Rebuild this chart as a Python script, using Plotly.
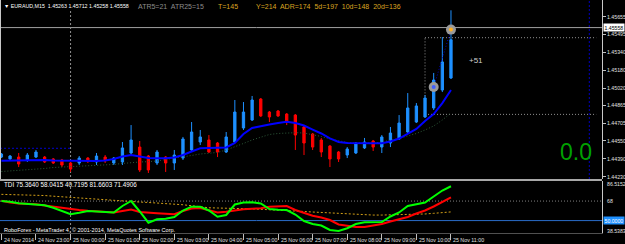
import plotly.graph_objects as go
import pandas as pd

# ---------------- data ----------------
bar_times = pd.date_range("2014-11-24 22:00", periods=53, freq="15min")

ha_open = [1.44405,1.44388,1.44405,1.44379,1.44405,1.44405,1.44388,1.44379,1.44352,1.44352,
           1.44396,1.44361,1.44405,1.44352,1.44361,1.44441,1.44494,1.44414,1.44352,1.44405,
           1.44352,1.44396,1.44468,1.44539,1.44557,1.44530,1.44450,1.44539,1.44664,1.44735,
           1.44922,1.44806,1.44815,1.44788,1.44779,1.44673,1.44610,1.44557,1.44503,1.44450,
           1.44423,1.44441,1.44486,1.44548,1.44494,1.44530,1.44566,1.44628,1.44717,1.44762,
           1.44842,1.45002,1.45109]
ha_high = [1.44441,1.44423,1.44441,1.44441,1.44468,1.44414,1.44396,1.44388,1.44361,1.44414,
           1.44405,1.44441,1.44423,1.44405,1.44539,1.44690,1.44548,1.44423,1.44468,1.44414,
           1.44468,1.44584,1.44717,1.44646,1.44601,1.44539,1.44628,1.44913,1.44895,1.44949,
           1.44931,1.44815,1.44824,1.44797,1.44788,1.44690,1.44619,1.44575,1.44512,1.44459,
           1.44494,1.44539,1.44575,1.44557,1.44601,1.44673,1.44779,1.44975,1.44886,1.44958,
           1.45154,1.45474,1.45712]
ha_low = [1.44396,1.44379,1.44316,1.44361,1.44396,1.44352,1.44343,1.44316,1.44272,1.44334,
          1.44352,1.44334,1.44352,1.44334,1.44334,1.44423,1.44272,1.44263,1.44334,1.44272,
          1.44290,1.44379,1.44450,1.44512,1.44441,1.44405,1.44441,1.44530,1.44646,1.44726,
          1.44762,1.44717,1.44762,1.44690,1.44468,1.44423,1.44468,1.44405,1.44316,1.44361,
          1.44396,1.44432,1.44477,1.44459,1.44441,1.44494,1.44557,1.44619,1.44708,1.44753,
          1.44824,1.44984,1.45100]
ha_close = [1.44432,1.44414,1.44343,1.44423,1.44450,1.44361,1.44352,1.44334,1.44298,1.44396,
            1.44370,1.44414,1.44370,1.44396,1.44486,1.44557,1.44290,1.44290,1.44450,1.44352,
            1.44423,1.44566,1.44628,1.44584,1.44450,1.44450,1.44584,1.44806,1.44806,1.44913,
            1.44771,1.44762,1.44771,1.44726,1.44601,1.44530,1.44494,1.44450,1.44388,1.44388,
            1.44477,1.44530,1.44539,1.44494,1.44584,1.44619,1.44708,1.44842,1.44860,1.44931,
            1.45091,1.45252,1.45450]

ma_fast = [1.44372,1.44374,1.44374,1.44376,1.44379,1.44379,1.44374,1.44372,1.44370,1.44370,
           1.44370,1.44370,1.44374,1.44388,1.44410,1.44423,1.44410,1.44396,1.44394,1.44394,
           1.44401,1.44423,1.44454,1.44483,1.44486,1.44487,1.44490,1.44530,1.44610,1.44664,
           1.44682,1.44695,1.44708,1.44720,1.44708,1.44686,1.44650,1.44615,1.44572,1.44539,
           1.44530,1.44527,1.44527,1.44527,1.44527,1.44543,1.44570,1.44610,1.44655,1.44726,
           1.44788,1.44886,1.45002]
ma_slow = [1.44276,1.44281,1.44285,1.44290,1.44294,1.44303,1.44312,1.44316,1.44321,1.44325,
           1.44327,1.44330,1.44332,1.44339,1.44348,1.44356,1.44361,1.44364,1.44370,1.44383,
           1.44397,1.44408,1.44419,1.44432,1.44441,1.44446,1.44468,1.44495,1.44526,1.44557,
           1.44584,1.44606,1.44615,1.44619,1.44622,1.44619,1.44606,1.44588,1.44566,1.44548,
           1.44535,1.44530,1.44527,1.44530,1.44539,1.44552,1.44570,1.44593,1.44615,1.44646,
           1.44682,1.44735,1.44797]

tdi_green = [68.06,67.42,66.03,65.48,65.11,64.09,61.79,58.84,55.79,57.18,
             58.84,58.38,57.91,57.45,63.45,68.06,58.38,48.04,51.18,51.64,
             53.30,59.30,62.80,62.70,59.30,53.58,55.15,64.83,66.68,66.86,
             65.75,60.68,59.94,59.76,55.61,49.61,46.84,45.46,41.31,40.38,
             42.90,46.84,48.41,48.41,48.69,53.76,57.45,63.45,64.83,66.68,
             72.21,77.75,81.66]
tdi_red = [68.34,66.68,65.76,65.48,65.02,63.91,62.71,61.60,60.40,59.76,
           59.02,58.38,57.91,57.45,58.84,60.22,57.91,56.99,56.71,56.25,
           55.79,58.84,61.14,61.60,59.76,57.45,58.10,59.30,60.40,60.86,
           61.32,62.71,63.26,63.45,59.76,56.99,54.41,52.84,50.53,46.38,
           45.00,44.07,44.07,45.46,46.84,49.15,51.00,53.30,56.53,59.30,
           62.99,67.14,71.49]
tdi_base = [74.2,74.0,73.9,73.7,73.6,73.1,72.5,71.9,71.3,70.8,
            70.3,69.9,69.5,68.9,68.3,67.7,67.1,66.7,66.3,65.9,
            65.5,64.6,63.7,62.7,61.8,61.6,61.5,61.3,61.1,60.8,
            60.4,60.1,59.8,59.3,58.8,58.4,57.9,57.5,56.8,56.3,
            55.9,55.5,55.2,55.1,55.1,55.2,55.4,55.7,55.8,56.1,
            56.7,57.4,58.0]

price_ticks = [1.45655, 1.45495, 1.45340, 1.45180, 1.45020, 1.44865, 1.44705, 1.44550, 1.44390, 1.44230]
bid_price = 1.45558
tdi_levels = [86.5152, 68, 50.0000, 38.5383]
tdi_mid = 68
tdi_fifty = 50

time_tick_times = ["2014-11-24 22:00", "2014-11-24 23:00", "2014-11-25 00:00", "2014-11-25 01:00",
                   "2014-11-25 02:00", "2014-11-25 03:00", "2014-11-25 04:00", "2014-11-25 05:00",
                   "2014-11-25 06:00", "2014-11-25 07:00", "2014-11-25 08:00", "2014-11-25 09:00",
                   "2014-11-25 10:00", "2014-11-25 11:00"]
time_tick_labels = ["24 Nov 2014", "24 Nov 23:00", "25 Nov 00:00", "25 Nov 01:00", "25 Nov 02:00",
                    "25 Nov 03:00", "25 Nov 04:00", "25 Nov 05:00", "25 Nov 06:00", "25 Nov 07:00",
                    "25 Nov 08:00", "25 Nov 09:00", "25 Nov 10:00", "25 Nov 11:00"]

signal_points_x = [bar_times[52], bar_times[50]]
signal_points_y = [1.45540, 1.45029]
box_top, box_bottom = 1.45468, 1.44785
box_start, box_end = "2014-11-25 10:15", "2014-11-25 15:12"
prev_level = 1.44483
day_sep = "2014-11-25 00:00"
future_sep = "2014-11-25 15:00"

header_left = "\u25BC EURAUD,M15  1.45263 1.45712 1.45258 1.45558"
header_atr = "ATR5=21  ATR25=15"
header_t = "T=145"
header_adr = "Y=214  ADR=174  5d=197  10d=148  20d=136"
tdi_text = "TDI 75.3640 58.0415 40.7195 81.6603 71.4906"
footer_text = "RoboForex - MetaTrader 4, \u00A9 2001-2014, MetaQuotes Software Corp."

# ---------------- layout helpers ----------------
W, H = 625, 244
PW, PH = 602, 233
def py(v):
    return 1 - v / PH
def px(v):
    return v / PW

FONT = "Liberation Sans, Arial, sans-serif"
X_RANGE = ["2014-11-24 21:57:34", "2014-11-25 15:22:02"]
Y_RANGE = [1.442095, 1.4580373]
Y2_RANGE = [38.5383, 86.5152]

fig = go.Figure()

fig.add_trace(go.Candlestick(
    x=bar_times, open=ha_open, high=ha_high, low=ha_low, close=ha_close,
    increasing=dict(line=dict(color="#1E90FF", width=1), fillcolor="#1E90FF"),
    decreasing=dict(line=dict(color="#FF0000", width=1), fillcolor="#FF0000"),
    whiskerwidth=0, xaxis="x", yaxis="y", hoverinfo="skip", showlegend=False))

fig.add_trace(go.Scatter(x=bar_times, y=ma_slow, mode="lines",
                         line=dict(color="#2E5A3A", width=1, dash="1px,2px"),
                         xaxis="x", yaxis="y", showlegend=False))
fig.add_trace(go.Scatter(x=bar_times, y=ma_fast, mode="lines",
                         line=dict(color="#0000FF", width=2),
                         xaxis="x", yaxis="y", showlegend=False))
fig.add_trace(go.Scatter(x=[signal_points_x[1], signal_points_x[0]],
                         y=[signal_points_y[1], signal_points_y[0]], mode="lines",
                         line=dict(color="#0000C8", width=1, dash="1px,2px"),
                         xaxis="x", yaxis="y", showlegend=False))
fig.add_trace(go.Scatter(x=signal_points_x, y=signal_points_y, mode="markers",
                         marker=dict(size=10, color="#9A9A9A", line=dict(width=0)),
                         xaxis="x", yaxis="y", showlegend=False))
fig.add_trace(go.Scatter(x=signal_points_x, y=signal_points_y, mode="markers",
                         marker=dict(size=4, color=["#FFB020", "#4060FF"], line=dict(width=0)),
                         xaxis="x", yaxis="y", showlegend=False))

# TDI
fig.add_trace(go.Scatter(x=bar_times, y=tdi_base, mode="lines",
                         line=dict(color="#D4A017", width=1, dash="2px,2px"),
                         xaxis="x", yaxis="y2", showlegend=False))
fig.add_trace(go.Scatter(x=bar_times, y=tdi_red, mode="lines",
                         line=dict(color="#FF0000", width=2),
                         xaxis="x", yaxis="y2", showlegend=False))
fig.add_trace(go.Scatter(x=bar_times, y=tdi_green, mode="lines",
                         line=dict(color="#00FF00", width=2),
                         xaxis="x", yaxis="y2", showlegend=False))

shapes = []
shapes.append(dict(type="line", xref="paper", yref="y", x0=0, x1=1, y0=bid_price, y1=bid_price,
                   line=dict(color="#A0A0A0", width=1), layer="below"))
shapes.append(dict(type="line", xref="x", yref="y", x0=X_RANGE[0], x1=day_sep, y0=prev_level, y1=prev_level,
                   line=dict(color="#0000D0", width=1, dash="2px,2px")))
shapes.append(dict(type="line", xref="x", yref="paper", x0=day_sep, x1=day_sep, y0=0, y1=py(9),
                   line=dict(color="#909090", width=1, dash="2px,2px"), layer="below"))
shapes.append(dict(type="line", xref="x", yref="paper", x0=future_sep, x1=future_sep, y0=py(179), y1=1,
                   line=dict(color="#0000C0", width=1, dash="2px,2px"), layer="below"))
for (xa, xb, ya, yb) in [(box_start, box_end, box_top, box_top),
                         (box_start, box_end, box_bottom, box_bottom),
                         (box_start, box_start, box_bottom, box_top)]:
    shapes.append(dict(type="line", xref="x", yref="y", x0=xa, x1=xb, y0=ya, y1=yb,
                       line=dict(color="#909090", width=1, dash="1px,2px"), layer="below"))
shapes.append(dict(type="line", xref="paper", yref="y2", x0=0, x1=1, y0=tdi_mid, y1=tdi_mid,
                   line=dict(color="#808080", width=1, dash="1px,2px"), layer="below"))
shapes.append(dict(type="line", xref="paper", yref="y2", x0=0, x1=1, y0=tdi_fifty, y1=tdi_fifty,
                   line=dict(color="#2A6CC8", width=1), layer="below"))
shapes.append(dict(type="line", xref="paper", yref="paper", x0=0, x1=1, y0=py(180), y1=py(180),
                   line=dict(color="#A8A8A8", width=2)))
shapes.append(dict(type="line", xref="paper", yref="paper", x0=px(0.5), x1=px(0.5), y0=py(179), y1=1,
                   line=dict(color="#C8C8C8", width=1)))

annotations = []
def txt(x, y, s, size, color, xanchor="left", yanchor="middle", xref="paper", yref="paper", **kw):
    annotations.append(dict(x=x, y=y, text=s, xref=xref, yref=yref, xanchor=xanchor, yanchor=yanchor,
                            showarrow=False, font=dict(family=FONT, size=size, color=color), **kw))

txt(px(2), py(6), header_left, 5.3, "#FFFFFF")
txt(px(136), py(6.5), header_atr, 7, "#8C8C8C")
txt(px(216), py(6.5), header_t, 7, "#DAA520")
txt(px(254), py(6.5), header_adr, 7, "#DAA520")
txt(px(2), py(184), tdi_text, 6.3, "#FFFFFF")
txt(px(2), py(230), footer_text, 5.5, "#FFFFFF")
txt("2014-11-25 11:43", 1.45269, "+51", 8, "#D0D0D0", xanchor="center", xref="x", yref="y")
txt("2014-11-25 14:37", 1.44450, "0.0", 23, "#00A000", xanchor="center", xref="x", yref="y")

txt(1, bid_price, "1.45558", 5.2, "#000000", xshift=1, yref="y", bgcolor="#FFFFFF", borderpad=0.5)
tdi_shift = [-3, 0, 0, 2]
for v, s in zip(tdi_levels, tdi_shift):
    if v == tdi_fifty:
        txt(1, v, "%.4f" % v, 5.2, "#FFFFFF", xshift=1, yref="y2", bgcolor="#1E90FF", borderpad=0.5)
    elif v == tdi_mid:
        txt(1, v, "%d" % v, 5.2, "#E0E0E0", xshift=3, yref="y2")
    else:
        txt(1, v, "%.4f" % v, 5.2, "#E0E0E0", xshift=3, yshift=s, yref="y2")

for t, s in zip(time_tick_times, time_tick_labels):
    txt(t, 0, s, 5.3, "#E0E0E0", xref="x", yref="paper", yanchor="top", xshift=0.5, yshift=-1.5)

fig.update_layout(
    width=W, height=H,
    margin=dict(l=0, r=W - PW, t=0, b=H - PH, pad=0),
    paper_bgcolor="#000000", plot_bgcolor="#000000",
    showlegend=False, boxgap=0.62,
    shapes=shapes, annotations=annotations,
    xaxis=dict(domain=[0, 1], range=X_RANGE, type="date", anchor="y2",
               rangeslider=dict(visible=False), showgrid=False, zeroline=False,
               tickvals=time_tick_times, ticks="outside", ticklen=6, tickcolor="#C0C0C0",
               showticklabels=False, showline=True, linecolor="#505050", linewidth=1),
    yaxis=dict(domain=[py(179), 1], range=Y_RANGE, anchor="x", side="right",
               showgrid=False, zeroline=False, tickvals=price_ticks,
               ticktext=["%.5f" % v for v in price_ticks], ticks="outside", ticklen=3,
               tickcolor="#C0C0C0", tickfont=dict(family=FONT, size=5.2, color="#E0E0E0"),
               showline=True, linecolor="#C8C8C8", linewidth=1),
    yaxis2=dict(domain=[0, py(181)], range=Y2_RANGE, anchor="x", side="right",
                showgrid=False, zeroline=False, showticklabels=False, ticks="",
                showline=True, linecolor="#C8C8C8", linewidth=1),
)

fig.write_html("out.html")
